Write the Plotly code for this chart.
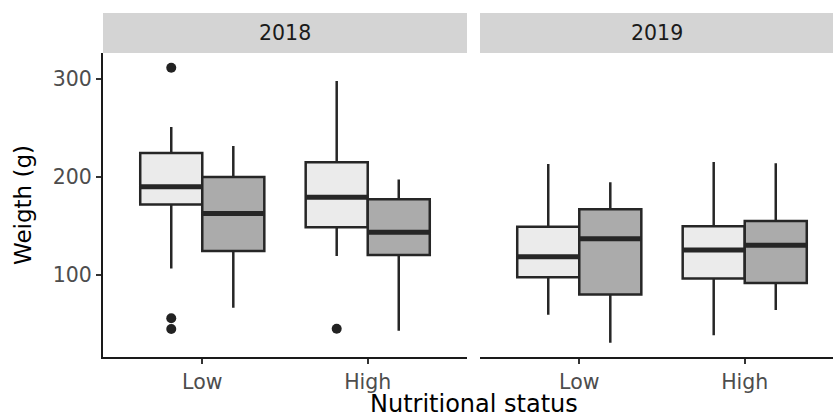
import plotly.graph_objects as go

# ---- data ----
categories = ["Low", "High"]
years = ["2018", "2019"]
groups = ["light", "dark"]

# light group boxes: per year, per category
light_q1 = {"2018": [172, 148.7], "2019": [97.6, 96.3]}
light_med = {"2018": [190, 179.3], "2019": [118.7, 125.5]}
light_q3 = {"2018": [224.5, 215], "2019": [149.3, 149.7]}
light_lo = {"2018": [106.5, 119.4], "2019": [59.5, 38.4]}
light_hi = {"2018": [251, 298], "2019": [213.3, 215.3]}

# dark group boxes
dark_q1 = {"2018": [124.5, 120.4], "2019": [80, 91.8]}
dark_med = {"2018": [162.6, 143.6], "2019": [137, 130.3]}
dark_q3 = {"2018": [200, 177.2], "2019": [167, 155]}
dark_lo = {"2018": [66.6, 43.2], "2019": [30.9, 64.3]}
dark_hi = {"2018": [231.6, 197.3], "2019": [194.6, 214]}

# outliers (light group, 2018)
outliers_2018_light = {"Low": [311.5, 55.8, 44.9], "High": [45.2]}

# ---- style ----
FONT = "DejaVu Sans"
fills = {"light": "#ebebeb", "dark": "#ababab"}
LINE = "#262626"
offsets = {"light": -0.1875, "dark": 0.1875}
BW = 0.375

stats = {
    "light": (light_q1, light_med, light_q3, light_lo, light_hi),
    "dark": (dark_q1, dark_med, dark_q3, dark_lo, dark_hi),
}

W, H = 833, 419
ML, MR, MT, MB = 103, 0, 53, 62
pw = W - ML - MR
ph = H - MT - MB
p1 = (103, 467)
p2 = (480, 833)
dom1 = [(p1[0] - ML) / pw, (p1[1] - ML) / pw]
dom2 = [(p2[0] - ML) / pw, (p2[1] - ML) / pw]
scale = (p1[1] - p1[0]) / 2.2
range2_hi = 0.4 + (p2[1] - p2[0]) / scale

fig = go.Figure()
xpos = [i + 1 for i in range(len(categories))]

for yi, yr in enumerate(years):
    xa = "x" if yi == 0 else "x2"
    ya = "y" if yi == 0 else "y2"
    for g in groups:
        q1, med, q3, lo, hi = stats[g]
        xs = [p + offsets[g] for p in xpos]
        fig.add_trace(go.Box(
            x=xs, q1=q1[yr], median=med[yr], q3=q3[yr],
            lowerfence=lo[yr], upperfence=hi[yr],
            width=BW, whiskerwidth=0, boxpoints=False,
            fillcolor=fills[g], line=dict(color=LINE, width=2.5),
            xaxis=xa, yaxis=ya, showlegend=False, hoverinfo="skip",
        ))
        mx, my = [], []
        for x, m in zip(xs, med[yr]):
            mx += [x - BW / 2, x + BW / 2, None]
            my += [m, m, None]
        fig.add_trace(go.Scatter(
            x=mx, y=my, mode="lines", line=dict(color=LINE, width=5),
            xaxis=xa, yaxis=ya, showlegend=False, hoverinfo="skip",
        ))

ox, oy = [], []
for ci, c in enumerate(categories):
    for v in outliers_2018_light.get(c, []):
        ox.append(xpos[ci] + offsets["light"])
        oy.append(v)
fig.add_trace(go.Scatter(
    x=ox, y=oy, mode="markers",
    marker=dict(color="#222222", size=10),
    xaxis="x", yaxis="y", showlegend=False, hoverinfo="skip",
))

yrange = [16.3, 326.5]
tickfont = dict(family=FONT, size=20.5, color="#4d4d4d")
xcommon = dict(
    tickvals=xpos, ticktext=categories, showline=True, linecolor="#1a1a1a",
    linewidth=2, ticks="outside", ticklen=5, tickwidth=2, tickcolor="#333333",
    showgrid=False, zeroline=False, tickfont=tickfont,
)
fig.update_layout(
    width=W, height=H,
    margin=dict(l=ML, r=MR, t=MT, b=MB),
    paper_bgcolor="white", plot_bgcolor="white",
    font=dict(family=FONT),
    xaxis=dict(domain=dom1, range=[0.4, 2.6], anchor="y", **xcommon),
    xaxis2=dict(domain=dom2, range=[0.4, range2_hi], anchor="y2", **xcommon),
    yaxis=dict(range=yrange, tickvals=[100, 200, 300], showline=True,
               linecolor="#1a1a1a", linewidth=2, ticks="outside", ticklen=5,
               tickwidth=2, tickcolor="#333333", showgrid=False,
               zeroline=False, tickfont=tickfont, anchor="x"),
    yaxis2=dict(range=yrange, showticklabels=False, showline=False, ticks="",
                showgrid=False, zeroline=False, anchor="x2"),
)

strip_h = 40 / ph
for dom, yr in [(dom1, years[0]), (dom2, years[1])]:
    fig.add_shape(type="rect", xref="paper", yref="paper",
                  x0=dom[0], x1=dom[1], y0=1, y1=1 + strip_h,
                  fillcolor="#d4d4d4", line=dict(width=0), layer="below")
    fig.add_annotation(text=yr, xref="paper", yref="paper",
                       x=(dom[0] + dom[1]) / 2, y=1 + strip_h / 2,
                       showarrow=False, xanchor="center", yanchor="middle",
                       font=dict(family=FONT, size=20.5, color="#1a1a1a"))

fig.add_annotation(text="Weigth (g)", xref="paper", yref="paper",
                   x=(23 - ML) / pw, y=(H - MB - 205) / ph, textangle=-90,
                   showarrow=False, xanchor="center", yanchor="middle",
                   font=dict(family=FONT, size=23, color="black"))
fig.add_annotation(text="Nutritional status", xref="paper", yref="paper",
                   x=(474 - ML) / pw, y=-(H - (H - MB)) / ph,
                   showarrow=False, xanchor="center", yanchor="bottom",
                   borderpad=0,
                   font=dict(family=FONT, size=24, color="black"))

fig.write_html(
    "out.html",
    config={"displayModeBar": False, "staticPlot": True},
    post_script="document.body.style.margin='0';document.body.style.overflow='hidden';",
)
